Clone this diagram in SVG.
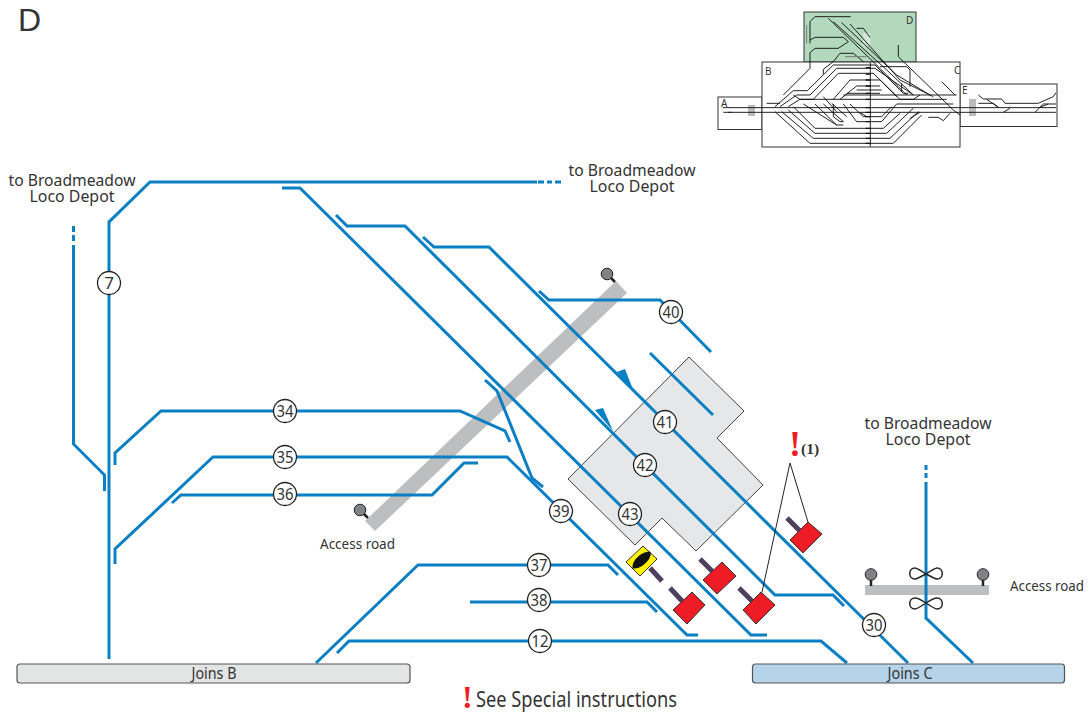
<svg xmlns="http://www.w3.org/2000/svg" width="1089" height="715" viewBox="0 0 1089 715">
<style>
text{font-family:"Noto Sans","Liberation Sans",sans-serif;fill:#333}
.t{fill:none;stroke:#0a7fc4;stroke-width:3;stroke-linejoin:miter}
.sq{fill:#ee1c25;stroke:#333;stroke-width:1}
.st{stroke:#4f3f5f;stroke-width:5;fill:none}
.c{fill:#fff;stroke:#222;stroke-width:1.3}
.n{font-size:17px;text-anchor:middle}
.l{font-size:16px;text-anchor:middle}
.a{font-size:15px}
.m{fill:none;stroke:#111;stroke-width:2.800}
.g{fill:none;stroke:#777;stroke-width:3}
.k{fill:none;stroke:#222;stroke-width:1}
.lamp{fill:#808285;stroke:#222;stroke-width:1}
.mt{font-size:10px;fill:#333}
</style>
<rect width="1089" height="715" fill="#fff"/>
<text x="18" y="31" font-size="32" id="title" style="font-family:'Liberation Sans',sans-serif">D</text>

<g id="keymap">
<rect x="804" y="12" width="112" height="50" fill="#b2d9bb" stroke="#333" stroke-width="1"/>
<rect x="718" y="97" width="44" height="32.5" fill="#fff" stroke="#333" stroke-width="1"/>
<rect x="960" y="84" width="97" height="42.5" fill="#fff" stroke="#333" stroke-width="1"/>
<rect x="762" y="62" width="198" height="85" fill="#fff" stroke="#333" stroke-width="1"/>
<rect x="748" y="105" width="7" height="11" fill="#bbb"/>
<rect x="969" y="99" width="7" height="17" fill="#bbb"/>
<rect x="863" y="33" width="7" height="13" fill="#d5e8d8"/>
<g transform="translate(700 0) scale(.3333)">
<path class="m" d="M68 323H1068M70 337H1068M85 337H95M200 310H240M511 187V440"/>
<path class="m" style="stroke-width:4" d="M497 203H511M497 222H511M497 240H511M497 258H511M497 280H511M497 298H511M497 323H511M497 337H511M497 350H511M497 365H511M497 385H511M497 400H511M497 415H511M497 430H511"/>
<path class="m" d="M225 320L280 272H322L400 195H525L610 280H625M240 320L290 285H330L410 205H525L640 285M265 320L300 298H340L415 220H520L600 298H640L660 285M400 298L450 240H540L590 290M420 298L470 258H540M440 280H540M430 285H770M470 270H545M280 285L300 298H740M370 290L410 335M395 310L440 350"/>
<path class="m" d="M225 335L330 430H580L665 345M245 335L340 415H570L655 335M265 330L345 400H560L640 325M280 320L345 385H550L600 340M310 312L410 375H430M345 312L410 375M370 312L430 365M400 312V350L420 365H430M430 312L470 365H545L590 312M450 312L490 350H545L575 320M480 337L500 350M590 312H760"/>
<path class="g" d="M320 75V130"/>
<path class="m" d="M330 130V65L345 50H452M330 120L345 112H430L445 125L415 145H345L330 158V205L250 285M385 55L540 205L620 285M400 65L555 205L640 285M425 68L590 225L690 285M450 72L600 240L700 290M470 85H490L510 112M595 135V170L760 330L780 345M370 222V208L400 185L420 160H460L490 185M540 200H620L630 210V260M725 245L765 285M605 250V275"/>
<path class="g" d="M435 170H500"/>
<path class="m" d="M685 352H715L730 362L750 340M630 355L660 337M835 285L850 297H905L915 310H1015L1060 290L1068 278M835 310H880L895 322M860 298L895 322M910 337L930 325M1005 337L1030 312H1068M1020 322L1045 312"/>
</g>
<text class="mt" x="721" y="107">A</text>
<text class="mt" x="765" y="75">B</text>
<text class="mt" x="954" y="74">C</text>
<text class="mt" x="906" y="24">D</text>
<text class="mt" x="962" y="94">E</text>
</g>

<path id="building" d="M689 357L744 411L717 438L763 485L696 551L662 518L635 545L568 479Z" fill="#e6e7e8" stroke="#444" stroke-width="1"/>
<g id="road-diagonal">
<path d="M616 281L627 293L375 531L365 521Z" fill="#bcbec0"/>
<path class="st" style="stroke:#222;stroke-width:2.5" d="M611 278L615 282M364 514L368 518"/>
<circle class="lamp" cx="607" cy="274" r="5.800"/>
<circle class="lamp" cx="360" cy="510" r="5.800"/>
</g>
<g id="road-right">
<rect x="865" y="585" width="124" height="10" fill="#bcbec0"/>
<path d="M871 578V586M983 578V586" stroke="#222" stroke-width="2.5"/>
<circle class="lamp" cx="871" cy="574.500" r="5.800"/>
<circle class="lamp" cx="983" cy="574.500" r="5.800"/>
</g>

<g id="connectors">
<path class="t" d="M109 659V222L150 182H537"/>
<path class="t" d="M538 182H544M547 182H552M555 182H561"/>
<path class="t" d="M73.500 226V232M73.500 235V241"/>
<path class="t" d="M73.500 245V444L104.500 475V491"/>
<path class="t" d="M115 465V453L161 411H460L505 431L510 442"/>
<path class="t" d="M115 564V549L213 457H507L687 635H698"/>
<path class="t" d="M172 503L181 495H432L464 463H478"/>
<path class="t" d="M485 380L497 391L532 478L543 487"/>
<path class="t" d="M282 188H300L751 635H767"/>
<path class="t" d="M336 215L347 226H405L775 595H833L844 606"/>
<path class="t" d="M423 237L434 247H489L908 663"/>
<path class="t" d="M539 291L549 300H660L711 352"/>
<path class="t" d="M650 353L713 415"/>
<path class="t" d="M337 653L349 641H821L847 663"/>
<path class="t" d="M316 663L418 565H608L618 575"/>
<path class="t" d="M470 602H647L657 612"/>
<path class="t" d="M926 465V470M926 473V478"/>
<path class="t" d="M926 482V618L973 663"/>
<path d="M617 372L625 369L634 392Z" fill="#0a7fc4"/>
<path d="M595 410L603 408L613 431Z" fill="#0a7fc4"/>
</g>

<g id="bridge">
<path class="k" style="stroke-width:1.500" d="M926 574C920 570 917 568 915 568C908 568 908 579 915 579C917 579 920 577 926 574C932 570 935 568 937 568C944 568 944 579 937 579C935 579 932 577 926 574Z"/>
<path class="k" style="stroke-width:1.500" d="M926 603C920 599 917 598 915 598C908 598 908 609 915 609C917 609 920 607 926 603C932 599 935 598 937 598C944 598 944 609 937 609C935 609 932 607 926 603Z"/>
</g>

<g id="signals">
<path class="k" d="M808 522L790 463L762 592"/>
<path class="st" d="M787 518L800 531"/><path class="sq" d="M808 522L822 534L803 553L790 540Z"/>
<path class="st" d="M700 559L713 572"/><path class="sq" d="M722 562L736 576L717 594L703 580Z"/>
<path class="st" d="M739 588L753 602"/><path class="sq" d="M761 592L775 605L756 624L743 610Z"/>
<path class="st" d="M670 588L683 602"/><path class="sq" d="M692 592L705 605L687 624L673 610Z"/>
<path class="st" d="M650 568L662 581"/>
<path d="M643 546L657 559L640 576L626 562Z" fill="#fff200" stroke="#333" stroke-width="1"/>
<path d="M633 568C632 561 641 552 650 552C652 559 641 569 633 568Z" fill="#111" stroke="#111" stroke-width="1"/>
</g>

<g id="n7"><circle class="c" cx="109" cy="283" r="11.500"/><text class="n" x="109" y="289">7</text></g>
<g id="n40"><circle class="c" cx="671" cy="312" r="11.500"/><text class="n" x="671" y="318" textLength="17" lengthAdjust="spacingAndGlyphs">40</text></g>
<g id="n34"><circle class="c" cx="285" cy="411" r="11.500"/><text class="n" x="285" y="417" textLength="17" lengthAdjust="spacingAndGlyphs">34</text></g>
<g id="n35"><circle class="c" cx="285" cy="457" r="11.500"/><text class="n" x="285" y="463" textLength="17" lengthAdjust="spacingAndGlyphs">35</text></g>
<g id="n36"><circle class="c" cx="285" cy="494" r="11.500"/><text class="n" x="285" y="500" textLength="17" lengthAdjust="spacingAndGlyphs">36</text></g>
<g id="n39"><circle class="c" cx="561" cy="511" r="11.500"/><text class="n" x="561" y="517" textLength="17" lengthAdjust="spacingAndGlyphs">39</text></g>
<g id="n41"><circle class="c" cx="665" cy="422" r="11.500"/><text class="n" x="665" y="428" textLength="17" lengthAdjust="spacingAndGlyphs">41</text></g>
<g id="n42"><circle class="c" cx="645" cy="465" r="11.500"/><text class="n" x="645" y="471" textLength="17" lengthAdjust="spacingAndGlyphs">42</text></g>
<g id="n43"><circle class="c" cx="630" cy="514" r="11.500"/><text class="n" x="630" y="520" textLength="17" lengthAdjust="spacingAndGlyphs">43</text></g>
<g id="n37"><circle class="c" cx="539" cy="565" r="11.500"/><text class="n" x="539" y="571" textLength="17" lengthAdjust="spacingAndGlyphs">37</text></g>
<g id="n38"><circle class="c" cx="539" cy="600" r="11.500"/><text class="n" x="539" y="606" textLength="17" lengthAdjust="spacingAndGlyphs">38</text></g>
<g id="n12"><circle class="c" cx="540" cy="641" r="11.500"/><text class="n" x="540" y="647" textLength="17" lengthAdjust="spacingAndGlyphs">12</text></g>
<g id="n30"><circle class="c" cx="874" cy="625" r="11.500"/><text class="n" x="874" y="631" textLength="17" lengthAdjust="spacingAndGlyphs">30</text></g>

<g id="joins-b"><rect x="17" y="664" width="393" height="19" rx="3" fill="#e3e4e4" stroke="#555" stroke-width="1.200"/><text x="214" y="679" class="l" textLength="45" lengthAdjust="spacingAndGlyphs">Joins B</text></g>
<g id="joins-c"><rect x="752.500" y="664" width="312" height="19" rx="3" fill="#b5d4e9" stroke="#555" stroke-width="1.200"/><text x="910" y="679" class="l" textLength="45" lengthAdjust="spacingAndGlyphs">Joins C</text></g>

<g id="labels">
<text class="l" x="72" y="186" textLength="127" lengthAdjust="spacingAndGlyphs">to Broadmeadow</text>
<text class="l" x="72" y="202" textLength="85" lengthAdjust="spacingAndGlyphs">Loco Depot</text>
<text class="l" x="632" y="176" textLength="127" lengthAdjust="spacingAndGlyphs">to Broadmeadow</text>
<text class="l" x="632" y="192" textLength="85" lengthAdjust="spacingAndGlyphs">Loco Depot</text>
<text class="l" x="928" y="429" textLength="127" lengthAdjust="spacingAndGlyphs">to Broadmeadow</text>
<text class="l" x="928" y="445" textLength="85" lengthAdjust="spacingAndGlyphs">Loco Depot</text>
<text class="a" x="320" y="549" textLength="75" lengthAdjust="spacingAndGlyphs">Access road</text>
<text class="a" x="1010" y="591" textLength="74" lengthAdjust="spacingAndGlyphs">Access road</text>
<text x="476" y="707" font-size="21" textLength="201" lengthAdjust="spacingAndGlyphs">See Special instructions</text>
<text x="462" y="708" font-size="32" font-weight="bold" style="fill:#ee1c25;font-family:'Liberation Serif',serif">!</text>
<text x="789" y="456" font-size="36" font-weight="bold" style="fill:#ee1c25;font-family:'Liberation Serif',serif">!</text>
<text x="801" y="454" font-size="15.500" font-weight="bold" style="fill:#333;font-family:'Liberation Serif',serif">(1)</text>
</g>
</svg>
